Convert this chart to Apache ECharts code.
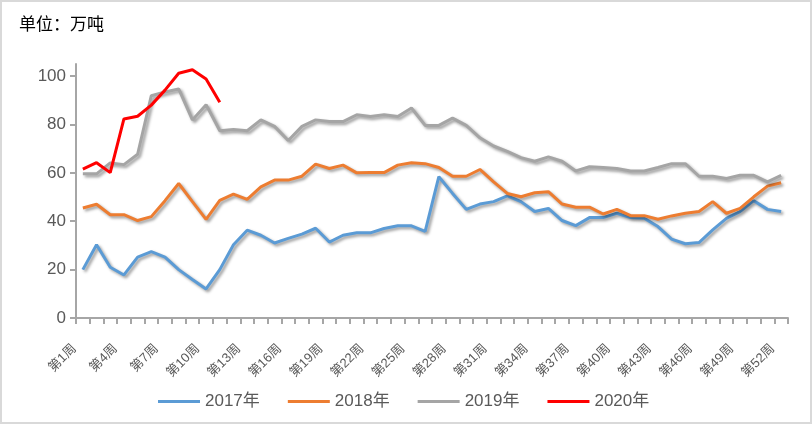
<!DOCTYPE html>
<html><head><meta charset="utf-8">
<script src="https://cdn.jsdelivr.net/npm/echarts@6/dist/echarts.min.js"></script>
<style>
html,body{margin:0;padding:0;background:#fff;}
#c{width:812px;height:424px;box-sizing:border-box;border:2px solid #d9d9d9;}
</style></head><body>
<div id="c"></div>
<script>
const categories = [];
for (let i = 1; i <= 52; i++) categories.push('第' + i + '周');
const yTicks = [0, 20, 40, 60, 80, 100];
const seriesNames = ['2017年', '2018年', '2019年', '2020年'];
const s2017 = [20,30.3,21,17.8,25.2,27.4,25.2,20,15.9,12,
  20,30.3,36.3,34.2,31,32.9,34.7,37.1,31.4,34.2,
  35.2,35.2,37,38.1,38.1,35.8,58.4,51.5,44.9,47.1,
  48.1,50.5,48.1,44,45.3,40.3,38.2,41.5,41.5,43.3,
  41.5,41.2,37.8,32.6,30.7,31.2,36.4,41.2,44,48.5,
  44.9,44];
const s2018 = [45.5,47,42.7,42.7,40.3,41.9,48.5,55.6,48.1,40.8,
  48.6,51.2,49,54.2,57,57,58.6,63.6,61.8,63.2,
  60,60.1,60.1,63.2,64.2,63.8,62.2,58.6,58.6,61.4,
  56.3,51.5,50.1,51.8,52.2,47.1,45.8,45.8,43,44.9,
  42.3,42.3,40.8,42.2,43.3,44,48.1,43.3,45.3,50.1,
  54.5,55.9];
const s2019 = [59.6,59.6,64.1,63.4,67.7,91.9,93.4,94.7,81.9,88.2,
  77.4,77.9,77.4,81.9,79.2,73.4,79.2,81.9,81.2,81.2,
  84,83.3,84,83.3,86.8,79.6,79.6,82.6,79.6,74.5,
  71.1,68.9,66.3,64.8,66.6,64.8,60.8,62.5,62.2,61.8,
  60.8,60.8,62.2,63.8,63.8,58.6,58.6,57.7,59,59,
  56.3,59];
const s2020 = [61.5,64.2,60.1,82.3,83.4,88,94.2,101.2,102.6,98.8,89.2];
const colors = ['#5B9BD5', '#ED7D31', '#A5A5A5', '#FF0000'];

const chart = echarts.init(document.getElementById('c'));
const mk = (name, data, color, shadow) => ({
  name, type: 'line', data, showSymbol: false, symbol: 'none',
  color,
  lineStyle: Object.assign({ width: 3, color },
    shadow ? { shadowColor: 'rgba(0,0,0,0.4)', shadowBlur: 3, shadowOffsetX: 2, shadowOffsetY: 2 } : {}),
  emphasis: { disabled: true }
});
chart.setOption({
  animation: false,
  title: { text: '单位：万吨', left: 12, top: 8,
    textStyle: { fontSize: 17, fontWeight: 'normal', color: '#000', fontFamily: 'Noto Sans CJK SC' } },
  grid: { left: 74, right: 22, top: 62, bottom: 104 },
  legend: {
    data: seriesNames, bottom: 7, left: 151, icon: 'rect', itemWidth: 42, itemHeight: 3, itemGap: 28,
    textStyle: { fontSize: 17, color: '#595959', fontFamily: 'Liberation Sans, Noto Sans CJK SC' }
  },
  xAxis: {
    type: 'category', data: categories, boundaryGap: true,
    axisLine: { lineStyle: { color: '#a6a6a6', width: 2 } },
    axisTick: { show: true, interval: 0, length: 6, lineStyle: { color: '#a6a6a6', width: 2 } },
    axisLabel: { interval: 2, rotate: 45, margin: 20, padding: [0, 12, 0, 0], fontSize: 13, color: '#595959',
      fontFamily: 'Liberation Sans, Noto Sans CJK SC' }
  },
  yAxis: {
    type: 'value', min: 0, max: 105, interval: 20,
    splitLine: { show: false },
    axisLine: { show: true, lineStyle: { color: '#a6a6a6', width: 2 } },
    axisTick: { show: true, length: 6, customValues: yTicks, lineStyle: { color: '#a6a6a6', width: 2 } },
    axisLabel: { customValues: yTicks, margin: 10, fontSize: 17, color: '#595959', fontFamily: 'Liberation Sans' }
  },
  series: [
    mk(seriesNames[0], s2017, colors[0], true),
    mk(seriesNames[1], s2018, colors[1], true),
    mk(seriesNames[2], s2019, colors[2], true),
    mk(seriesNames[3], s2020, colors[3], false)
  ]
});
</script></body></html>
